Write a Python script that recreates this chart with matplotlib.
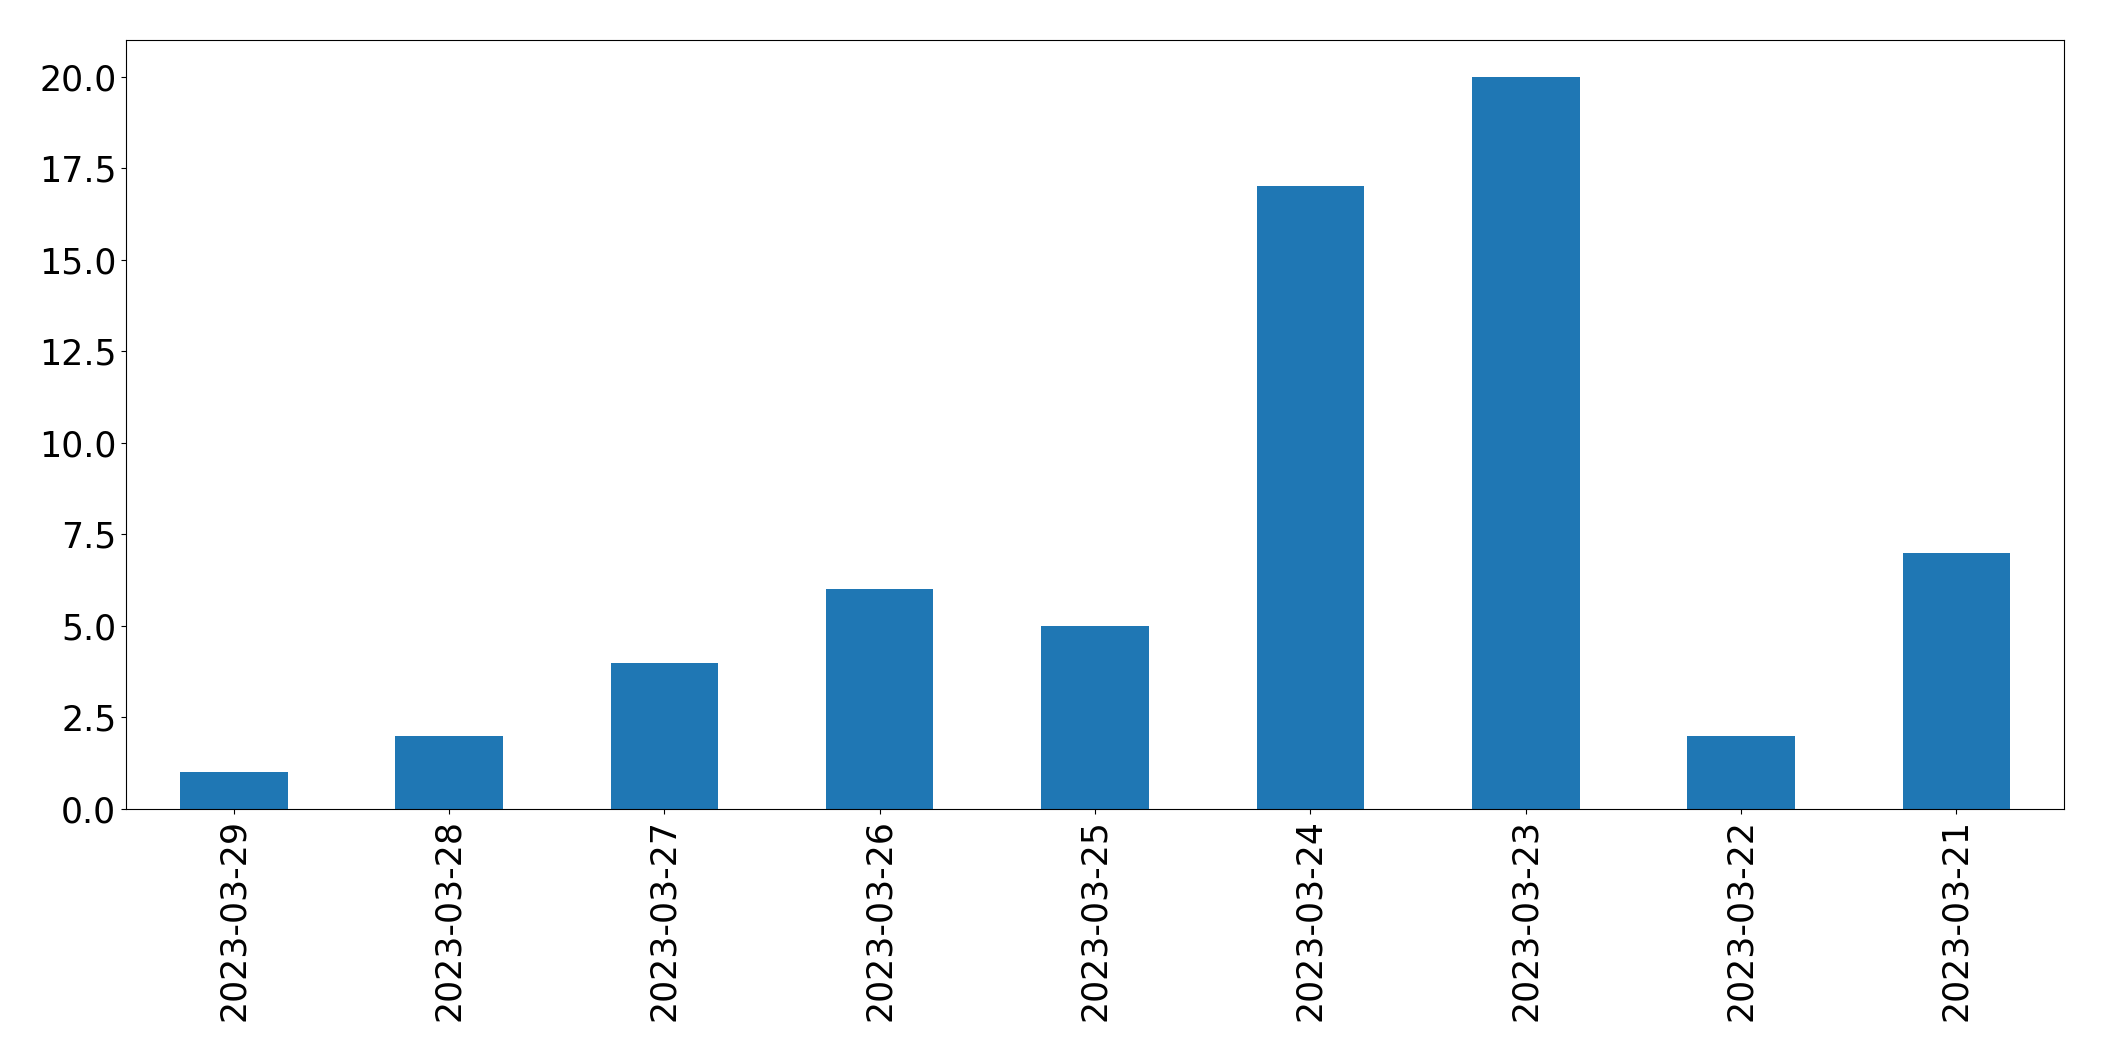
import matplotlib
matplotlib.use('Agg')
import matplotlib.pyplot as plt
import pandas as pd

# 每日数量
dates = ['2023-03-29', '2023-03-28', '2023-03-27', '2023-03-26', '2023-03-25',
         '2023-03-24', '2023-03-23', '2023-03-22', '2023-03-21']
counts = [1, 2, 4, 6, 5, 17, 20, 2, 7]

s = pd.Series(counts, index=dates)

fig = plt.figure(figsize=(21.04, 10.61), dpi=100)
ax = fig.add_axes([126 / 2104, 1 - 809 / 1061, (2064 - 126) / 2104, (809 - 40) / 1061])
s.plot(kind='bar', ax=ax, color='#1f77b4')
ax.tick_params(axis='both', labelsize=25)
ax.set_xticklabels(dates, rotation=90)

fig.savefig('out.png', dpi=100)
